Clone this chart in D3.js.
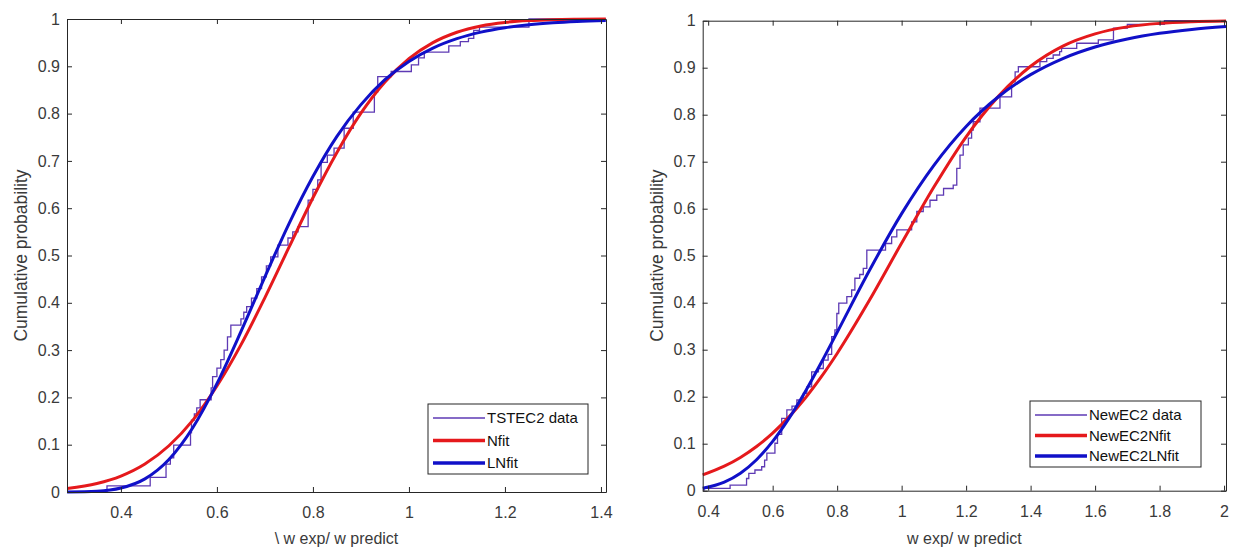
<!DOCTYPE html>
<html>
<head>
<meta charset="utf-8">
<title>Cumulative probability</title>
<script src="https://cdn.jsdelivr.net/npm/d3@7"></script>
<style>
  body { margin: 0; background: #fff; }
  svg { display: block; font-family: "Liberation Sans", Arial, Helvetica, sans-serif; }
  .tick text { fill: #3a3a3a; font-size: 16px; }
  .tick line, .domain { stroke: #262626; }
</style>
</head>
<body>
<div id="chart"></div>
<script>
// ---- data ----
var yTicks = [0, 0.1, 0.2, 0.3, 0.4, 0.5, 0.6, 0.7, 0.8, 0.9, 1];

// left panel: TSTEC2
var leftXTicks = [0.4, 0.6, 0.8, 1, 1.2, 1.4];
var leftLegend = ["TSTEC2 data", "Nfit", "LNfit"];
var leftDataX = [0.371, 0.461, 0.494, 0.503, 0.510, 0.545, 0.547, 0.553, 0.558, 0.565, 0.588, 0.591,
  0.600, 0.608, 0.615, 0.622, 0.629, 0.650, 0.656, 0.662, 0.672, 0.683, 0.693, 0.703, 0.712, 0.727,
  0.748, 0.758, 0.769, 0.790, 0.800, 0.810, 0.817, 0.830, 0.844, 0.865, 0.884, 0.928, 0.935, 0.963,
  1.005, 1.020, 1.032, 1.083, 1.107, 1.124, 1.135, 1.147, 1.25];
var leftDataY = [0.013, 0.031, 0.059, 0.072, 0.099, 0.125, 0.152, 0.165, 0.178, 0.195, 0.220, 0.244,
  0.262, 0.280, 0.300, 0.328, 0.353, 0.366, 0.380, 0.392, 0.410, 0.430, 0.455, 0.478, 0.497, 0.522,
  0.537, 0.550, 0.561, 0.617, 0.640, 0.660, 0.697, 0.712, 0.727, 0.769, 0.803, 0.846, 0.878, 0.889,
  0.903, 0.918, 0.930, 0.943, 0.952, 0.959, 0.976, 0.983, 1.0];
var leftFitX = [0.288, 0.35, 0.4, 0.45, 0.5, 0.55, 0.6, 0.65, 0.7, 0.75, 0.8, 0.85, 0.9, 0.95,
  1.0, 1.05, 1.1, 1.15, 1.2, 1.25, 1.3, 1.35, 1.41];
var leftNfit = [0.0076, 0.018, 0.0337, 0.0592, 0.0978, 0.152, 0.224, 0.311, 0.411, 0.517, 0.622,
  0.718, 0.801, 0.867, 0.916, 0.950, 0.972, 0.9854, 0.9928, 0.9967, 0.9986, 0.9994, 0.9998];
var leftLNfit = [0.0001, 0.0016, 0.0083, 0.0277, 0.0687, 0.1363, 0.229, 0.339, 0.455, 0.567, 0.667,
  0.752, 0.819, 0.8716, 0.9103, 0.9385, 0.9584, 0.9722, 0.9816, 0.9879, 0.9921, 0.9949, 0.9970];

// right panel: NewEC2
var rightXTicks = [0.4, 0.6, 0.8, 1, 1.2, 1.4, 1.6, 1.8, 2];
var rightLegend = ["NewEC2 data", "NewEC2Nfit", "NewEC2LNfit"];
var rightDataX = [0.387, 0.468, 0.519, 0.526, 0.545, 0.566, 0.575, 0.582, 0.607, 0.615, 0.628, 0.644,
  0.660, 0.675, 0.695, 0.706, 0.721, 0.742, 0.757, 0.772, 0.783, 0.793, 0.799, 0.805, 0.830, 0.845,
  0.855, 0.870, 0.881, 0.892, 0.950, 0.969, 0.985, 1.031, 1.047, 1.067, 1.088, 1.109, 1.130, 1.160,
  1.171, 1.181, 1.191, 1.207, 1.217, 1.222, 1.243, 1.305, 1.341, 1.352, 1.362, 1.429, 1.450, 1.470,
  1.490, 1.496, 1.543, 1.610, 1.657, 1.700, 1.815];
var rightDataY = [0.005, 0.012, 0.026, 0.037, 0.044, 0.051, 0.065, 0.080, 0.101, 0.120, 0.154, 0.172,
  0.180, 0.193, 0.207, 0.221, 0.253, 0.260, 0.278, 0.290, 0.328, 0.342, 0.377, 0.399, 0.413, 0.427,
  0.452, 0.460, 0.473, 0.512, 0.526, 0.540, 0.555, 0.572, 0.594, 0.604, 0.618, 0.629, 0.643, 0.650,
  0.686, 0.714, 0.736, 0.750, 0.767, 0.785, 0.814, 0.838, 0.870, 0.891, 0.902, 0.913, 0.920, 0.927,
  0.934, 0.941, 0.952, 0.959, 0.984, 0.992, 1.0];
var rightFitX = [0.383, 0.45, 0.5, 0.55, 0.6, 0.65, 0.7, 0.75, 0.8, 0.9, 1.0, 1.1, 1.2, 1.3, 1.4,
  1.5, 1.6, 1.7, 1.8, 1.9, 2.006];
var rightNfit = [0.0336, 0.0521, 0.0707, 0.0940, 0.1224, 0.1565, 0.196, 0.2415, 0.292, 0.405, 0.527,
  0.646, 0.753, 0.839, 0.903, 0.946, 0.972, 0.9869, 0.9943, 0.9977, 0.9992];
var rightLNfit = [0.0053, 0.0184, 0.0373, 0.0659, 0.1048, 0.1533, 0.2096, 0.2717, 0.337, 0.4684, 0.5895,
  0.6923, 0.775, 0.8381, 0.8852, 0.9195, 0.944, 0.9611, 0.9732, 0.9815, 0.9876];

var colors = ["#5e3ab4", "#e5191c", "#1010c8"];
var widths = [1.3, 3, 3];

var svg = d3.select("#chart").append("svg")
  .attr("width", 1235)
  .attr("height", 553);

function panel(o) {
  var x = d3.scaleLinear().domain(o.xDomain).range([o.left, o.right]);
  var y = d3.scaleLinear().domain([0, 1]).range([o.bottom, o.top]);
  var g = svg.append("g");

  var line = d3.line()
    .x(function(d) { return x(d[0]); })
    .y(function(d) { return y(d[1]); });

  // ecdf stairs
  var stairs = [[o.dataX[0], 0]].concat(o.dataX.map(function(v, i) { return [v, o.dataY[i]]; }));
  stairs.push([o.xDomain[1], o.dataY[o.dataY.length - 1]]);
  g.append("path")
    .datum(stairs)
    .attr("fill", "none")
    .attr("stroke", colors[0])
    .attr("stroke-width", widths[0])
    .attr("d", line.curve(d3.curveStepAfter));

  [o.nfit, o.lnfit].forEach(function(s, k) {
    g.append("path")
      .datum(o.fitX.map(function(v, i) { return [v, s[i]]; }))
      .attr("fill", "none")
      .attr("stroke", colors[k + 1])
      .attr("stroke-width", widths[k + 1])
      .attr("d", line.curve(d3.curveMonotoneX));
  });

  var fmt = d3.format("~g");
  g.append("g")
    .attr("transform", "translate(0," + o.bottom + ")")
    .call(d3.axisBottom(x).tickValues(o.xTicks).tickSize(-5).tickSizeOuter(0).tickPadding(15).tickFormat(fmt));
  g.append("g")
    .attr("transform", "translate(0," + o.top + ")")
    .call(d3.axisTop(x).tickValues(o.xTicks).tickSize(-5).tickSizeOuter(0).tickFormat(""));
  g.append("g")
    .attr("transform", "translate(" + o.left + ",0)")
    .call(d3.axisLeft(y).tickValues(yTicks).tickSize(-5).tickSizeOuter(0).tickPadding(7).tickFormat(fmt));
  g.append("g")
    .attr("transform", "translate(" + o.right + ",0)")
    .call(d3.axisRight(y).tickValues(yTicks).tickSize(-5).tickSizeOuter(0).tickFormat(""));

  g.append("text")
    .attr("x", (o.left + o.right) / 2)
    .attr("y", 544)
    .attr("text-anchor", "middle")
    .attr("fill", "#3a3a3a")
    .style("font-size", "16px")
    .text(o.xLabel);

  g.append("text")
    .attr("transform", "translate(" + (o.left - 40) + "," + ((o.top + o.bottom) / 2) + ") rotate(-90)")
    .attr("text-anchor", "middle")
    .attr("fill", "#3a3a3a")
    .style("font-size", "17.5px")
    .text("Cumulative probability");

  // legend
  var lg = o.legend;
  var row = d3.scalePoint().domain(o.names).range([lg.y + 14, lg.y + lg.h - 11]);
  g.append("rect")
    .attr("x", lg.x).attr("y", lg.y)
    .attr("width", lg.w).attr("height", lg.h)
    .attr("fill", "#fff")
    .attr("stroke", "#262626");
  o.names.forEach(function(n, i) {
    g.append("line")
      .attr("x1", lg.x + 5).attr("x2", lg.x + 57)
      .attr("y1", row(n)).attr("y2", row(n))
      .attr("stroke", colors[i])
      .attr("stroke-width", i == 0 ? 1.5 : 3.5);
    g.append("text")
      .attr("x", lg.x + 59)
      .attr("y", row(n))
      .attr("dy", "0.35em")
      .attr("fill", "#111")
      .style("font-size", "15px")
      .text(n);
  });
}

panel({
  left: 67, right: 606, top: 19, bottom: 492,
  xDomain: [0.2877, 1.4105],
  xTicks: leftXTicks,
  dataX: leftDataX, dataY: leftDataY,
  fitX: leftFitX, nfit: leftNfit, lnfit: leftLNfit,
  names: leftLegend,
  xLabel: "\\ w exp/ w predict",
  legend: { x: 428, y: 404, w: 160, h: 70 }
});

panel({
  left: 702.7, right: 1226, top: 20.7, bottom: 490.7,
  xDomain: [0.383, 2.006],
  xTicks: rightXTicks,
  dataX: rightDataX, dataY: rightDataY,
  fitX: rightFitX, nfit: rightNfit, lnfit: rightLNfit,
  names: rightLegend,
  xLabel: "w exp/ w predict",
  legend: { x: 1030, y: 401, w: 171, h: 66 }
});
</script>
</body>
</html>
